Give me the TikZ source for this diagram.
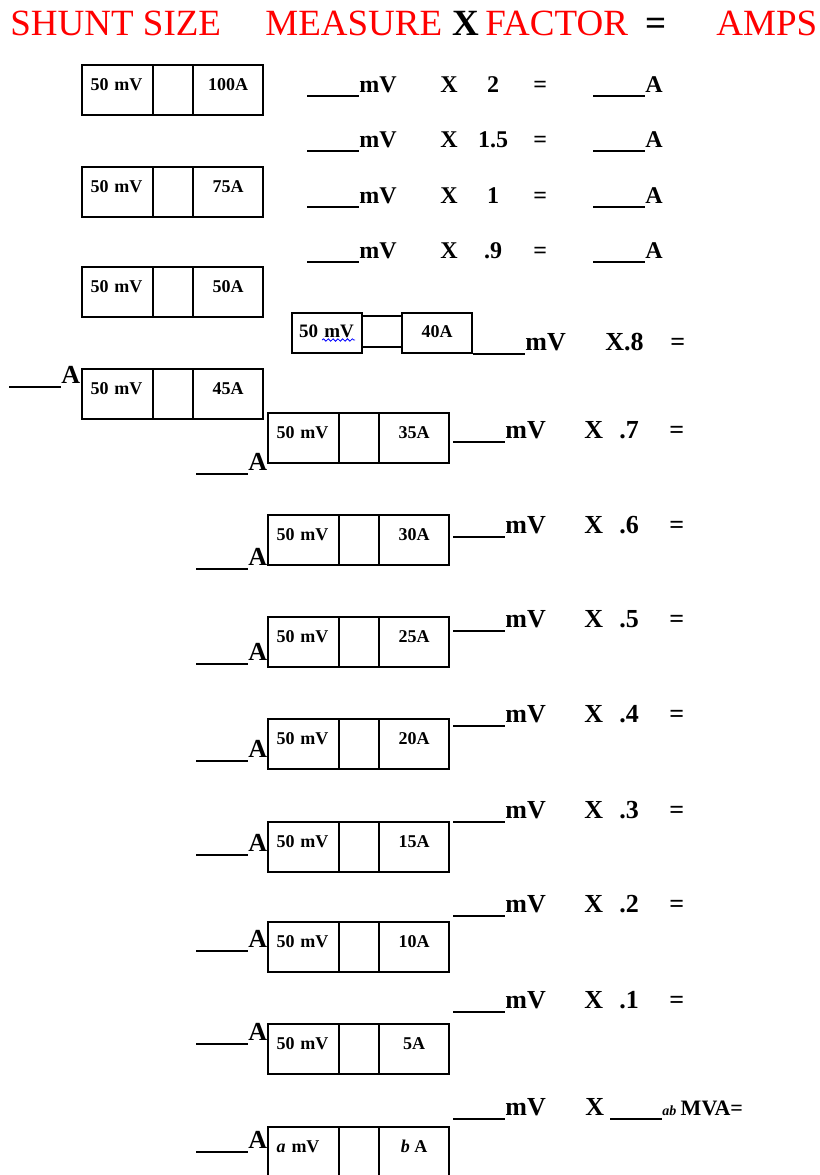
\documentclass[tikz,border=0pt]{standalone}
\usepackage{fontspec}
\setmainfont{Liberation Serif}
\usetikzlibrary{positioning,decorations.pathmorphing}

\newcommand{\headfont}{\fontsize{18.5pt}{22pt}\selectfont}
\newcommand{\blank}{\rule[-2.6pt]{26pt}{0.9pt}}
% one shunt: name, x, y, mV cell, amp cell
\newcommand{\shuntbox}[5]{%
  \node[cellL, anchor=north west] (#1l) at (#2,#3) {\mbox{#4}};
  \node[cellM, right=0pt of #1l] (#1m) {};
  \node[cellR, right=0pt of #1m] (#1r) {#5};
}

\tikzset{
  boxline/.style={line width=0.9pt},
  cellL/.style={draw, boxline, outer sep=0pt, inner ysep=0pt, inner xsep=4.25pt,
    text width=27pt, align=left, text height=12.5pt, text depth=12.5pt,
    font=\fontsize{9pt}{11pt}\selectfont\bfseries},
  cellM/.style={draw, boxline, outer sep=0pt, inner sep=0pt,
    minimum width=20pt, minimum height=25pt},
  cellR/.style={draw, boxline, outer sep=0pt, inner sep=0pt, minimum width=35pt,
    text height=12.5pt, text depth=12.5pt,
    font=\fontsize{9pt}{11pt}\selectfont\bfseries},
  head/.style={anchor=base west, inner sep=0pt, red, font=\headfont},
  toprow/.style={anchor=base west, inner sep=0pt,
    font=\fontsize{12pt}{14pt}\selectfont\bfseries},
  lowrow/.style={anchor=base west, inner sep=0pt,
    font=\fontsize{13pt}{15pt}\selectfont\bfseries}
}

\begin{document}
\begin{tikzpicture}[x=0.5pt, y=-0.5pt]
    \useasboundingbox (0,0) rectangle (820,1175);

    % Heading
    \node[head] (size) at (10,35) {SHUNT SIZE};
    \node[head] (measure) at (265,35) {MEASURE};
    \node[head, black, font=\headfont\bfseries] (times) at (452,35) {X};
    \node[head] (factor) at (485,35) {FACTOR};
    \node[head, black, font=\headfont\bfseries] (equals) at (645,35) {=};
    \node[head] (amps) at (716,35) {AMPS};

    % Shunts on the left
    \shuntbox{s100}{82}{65}{50 mV}{100A}
    \shuntbox{s75}{82}{167}{50 mV}{75A}
    \shuntbox{s50}{82}{267}{50 mV}{50A}
    \shuntbox{s45}{82}{369}{50 mV}{45A}
    \node[lowrow] (a45) at (9,383) {\blank A};

    % First four lines
    \foreach \fac/\ty [count=\i] in {2/92, 1.5/147, 1/203, .9/258} {
        \node[toprow] (mv\i) at (307,\ty) {\blank mV};
        \node[toprow] (x\i) at (440,\ty) {X};
        \node[toprow, anchor=base] (f\i) at (493,\ty) {\fac};
        \node[toprow] (eq\i) at (533,\ty) {=};
        \node[toprow] (amp\i) at (593,\ty) {\blank A};
    }

    % 40A shunt
    \node[cellL, text height=12pt, text depth=8pt, inner xsep=3.5pt, text width=28pt,
        font=\fontsize{9.5pt}{11pt}\selectfont\bfseries,
        anchor=north west] (s40l) at (292,313) {\mbox{50 mV}};
    \node[cellR, text height=12pt, text depth=8pt, right=20pt of s40l] (s40r) {40A};
    \draw[boxline] ([yshift=-1.5pt]s40l.north east) -- ([yshift=-1.5pt]s40r.north west);
    \draw[boxline] ([yshift=3pt]s40l.south east) -- ([yshift=3pt]s40r.south west);
    \draw[blue, decorate, decoration={snake, amplitude=0.6pt, segment length=2.4pt}]
        ([xshift=15pt, yshift=-13.5pt]s40l.north west) -- ++(16.5pt,0pt);
    \node[lowrow] (mv40) at (473,350) {\blank mV};
    \node[lowrow] (x40) at (605,350) {X.8};
    \node[lowrow] (eq40) at (670,350) {=};

    % Shunts 35A down to 5A
    \foreach \fac/\ty/\sa/\by/\ay in {.7/438/35/413/470, .6/533/30/515/565,
        .5/627/25/617/660, .4/722/20/719/757, .3/818/15/822/851,
        .2/912/10/922/947, .1/1008/5/1024/1040} {
        \shuntbox{s\sa}{268}{\by}{50 mV}{\sa A}
        \node[lowrow] (mv\sa) at (453,\ty) {\blank mV};
        \node[lowrow] (x\sa) at (584,\ty) {X};
        \node[lowrow] (f\sa) at (619,\ty) {\fac};
        \node[lowrow] (eq\sa) at (669,\ty) {=};
        \node[lowrow] (a\sa) at (196,\ay) {\blank A};
    }

    % General shunt
    \shuntbox{sab}{268}{1127}{{\itshape a} mV}{{\itshape b} A}
    \node[lowrow] (mvab) at (453,1115) {\blank mV};
    \node[lowrow] (xab) at (585,1115) {X};
    \node[lowrow] (fab) at (610,1115) {\blank{\fontsize{7pt}{8pt}\selectfont\itshape ab}\,{\fontsize{11pt}{12pt}\selectfont MVA=}};
    \node[lowrow] (aab) at (196,1148) {\blank A};
\end{tikzpicture}
\end{document}
